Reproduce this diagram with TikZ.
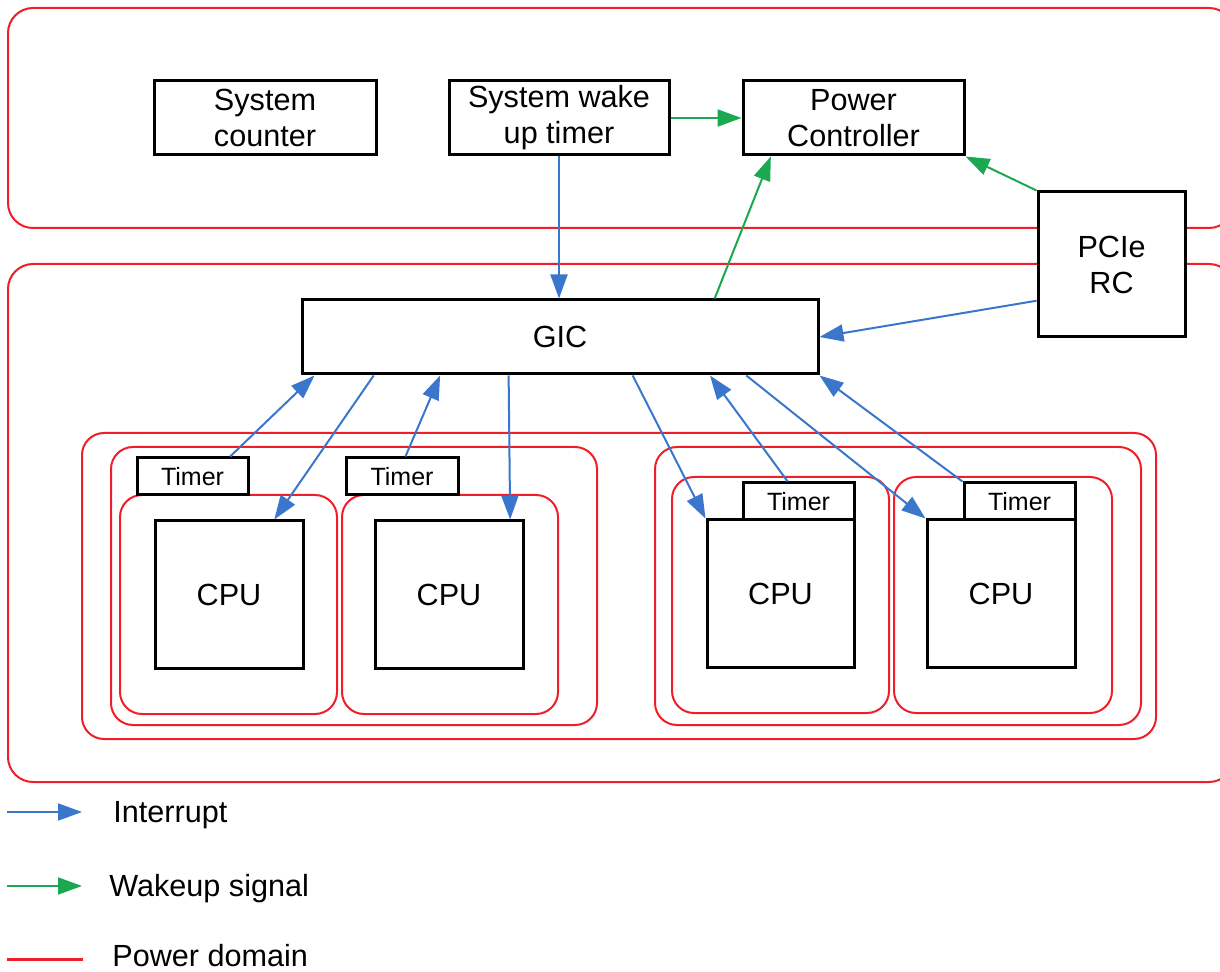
\documentclass[tikz,border=0pt]{standalone}
\usepackage{fontspec}
\setmainfont{Liberation Sans}
\usetikzlibrary{arrows.meta,calc}
\definecolor{pdred}{RGB}{240,30,40}
\definecolor{irqblue}{RGB}{58,118,204}
\definecolor{wkgreen}{RGB}{26,168,80}
\begin{document}
\begin{tikzpicture}[x=0.5pt,y=-0.5pt,
  blk/.style={draw=black,line width=1.5pt,fill=white,inner sep=0pt,align=center,
              font=\fontsize{15.3}{18}\selectfont},
  tmr/.style={blk,font=\fontsize{12.5}{15}\selectfont},
  dom/.style={draw=pdred,line width=1pt,rounded corners=11pt},
  irq/.style={draw=irqblue,line width=1pt,-{Triangle[length=12pt,width=8.5pt]}},
  wk/.style={draw=wkgreen,line width=1pt,-{Triangle[length=12pt,width=8.5pt]}},
  lg/.style={inner sep=0pt,anchor=base west,font=\fontsize{15.3}{18}\selectfont}]
\useasboundingbox (0,0) rectangle (1220,972);
\clip (0,0) rectangle (1220,972);

% power domains
\draw[dom,rounded corners=12.5pt] (8,8) rectangle (1234,228);
\draw[dom,rounded corners=12.5pt] (8,264) rectangle (1234,782);
\draw[dom] (82,433) rectangle (1156,739);
\draw[dom] (111,447) rectangle (597,725);
\draw[dom] (655,447) rectangle (1141,725);
\draw[dom] (120,495) rectangle (337,714);
\draw[dom] (342,495) rectangle (558,714);
\draw[dom] (672,477) rectangle (889,713);
\draw[dom] (894,477) rectangle (1112,713);

% blocks
\node[blk,minimum width=111pt,minimum height=37pt] (sc) at (265,118) {System\\counter};
\node[blk,minimum width=110pt,minimum height=37pt] (wake) at (559,118) {System wake\\up timer};
\node[blk,minimum width=110.5pt,minimum height=37pt] (pc) at (853.5,118) {Power\\Controller};
\node[blk,minimum width=73.5pt,minimum height=72.5pt] (pcie) at (1111.5,264.5) {PCIe\\RC};
\node[blk,minimum width=258pt,minimum height=37pt] (gic) at (560,337) {GIC};

\node[tmr,minimum width=55.5pt,minimum height=18.5pt] (t1) at (192.5,476.5) {Timer};
\node[tmr,minimum width=56pt,minimum height=18.5pt] (t2) at (402,476.5) {Timer};
\node[blk,minimum width=74pt,minimum height=73.5pt] (cpu1) at (229,594.5) {CPU};
\node[blk,minimum width=74pt,minimum height=73.5pt] (cpu2) at (449,594.5) {CPU};

\node[blk,minimum width=73.5pt,minimum height=73.5pt] (cpu3) at (780.5,593.5) {CPU};
\node[blk,minimum width=74pt,minimum height=73.5pt] (cpu4) at (1001,593.5) {CPU};
\node[tmr,minimum width=55.5pt,minimum height=18.5pt] (t3) at (798.5,501.5) {Timer};
\node[tmr,minimum width=55.5pt,minimum height=18.5pt] (t4) at (1019.5,501.5) {Timer};

% wakeup signals
\draw[wk] (wake.east) -- (pc.west);
\draw[wk] ($(gic.north west)!0.798!(gic.north east)$) -- ($(pc.south west)!0.131!(pc.south east)$);
\draw[wk] (pcie.north west) -- (pc.south east);

% interrupts
\draw[irq] (wake.south) -- (wake.south |- gic.north);
\draw[irq] ($(pcie.north west)!0.745!(pcie.south west)$) -- (gic.east);
\draw[irq] ($(t1.north west)!0.83!(t1.north east)$) -- ($(gic.south west)!0.027!(gic.south east)$);
\draw[irq] ($(gic.south west)!0.141!(gic.south east)$) -- ($(cpu1.north west)!0.8!(cpu1.north east)$);
\draw[irq] ($(t2.north west)!0.53!(t2.north east)$) -- ($(gic.south west)!0.269!(gic.south east)$);
\draw[irq] ($(gic.south west)!0.401!(gic.south east)$) -- ($(cpu2.north west)!0.905!(cpu2.north east)$);
\draw[irq] ($(gic.south west)!0.64!(gic.south east)$) -- (cpu3.north west);
\draw[irq] ($(t3.north west)!0.405!(t3.north east)$) -- ($(gic.south west)!0.789!(gic.south east)$);
\draw[irq] ($(gic.south west)!0.859!(gic.south east)$) -- (cpu4.north west);
\draw[irq] (t4.north west) -- (gic.south east);

% legend
\coordinate (li1) at (7,812); \coordinate (li2) at (82,812);
\coordinate (lw1) at (7,886); \coordinate (lw2) at (82,886);
\coordinate (lp1) at (7,959); \coordinate (lp2) at (83,959);
\draw[irq] (li1) -- (li2);
\draw[wk] (lw1) -- (lw2);
\draw[draw=pdred,line width=1.5pt] (lp1) -- (lp2);
\node[lg] (lgi) at (113,822) {Interrupt};
\node[lg] (lgw) at (109,896) {Wakeup signal};
\node[lg] (lgp) at (112,966) {Power domain};
\end{tikzpicture}
\end{document}
